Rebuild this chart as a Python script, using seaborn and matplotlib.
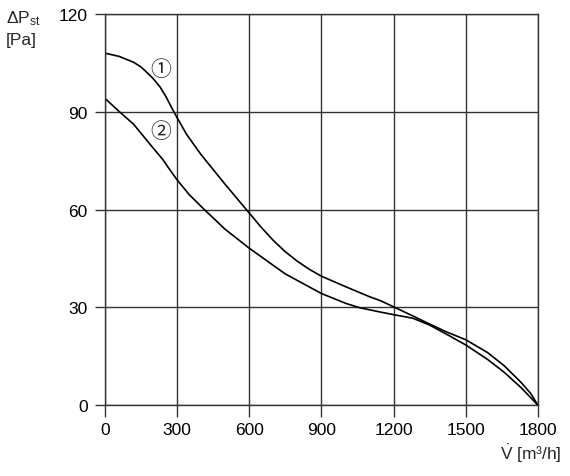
import numpy as np
import pandas as pd
import matplotlib.pyplot as plt
import seaborn as sns

sns.set_theme(style="white")
plt.rcParams["font.family"] = ["Liberation Sans", "DejaVu Sans", "Noto Sans CJK JP"]
plt.rcParams["mathtext.default"] = "regular"

# Kennlinie 1
vazao_curva_1 = [0, 60, 120, 150, 175, 200, 230, 255, 280, 300, 340, 400, 500, 600, 650, 700, 750, 800, 850, 900,
                 1000, 1100, 1145, 1200, 1280, 1350, 1420, 1500, 1590, 1660, 1730, 1770, 1800]
pressao_curva_1 = [108.0, 107.0, 105.2, 103.8, 102.1, 100.3, 97.6, 94.6, 91.0, 88.3, 83.1, 76.9, 67.8, 59.0, 54.6, 50.6, 47.1, 44.2, 41.7, 39.6,
                   36.4, 33.3, 32.1, 30.2, 27.4, 24.9, 22.5, 20.1, 16.2, 12.1, 7.0, 3.6, 0.0]

# Kennlinie 2
vazao_curva_2 = [0, 60, 120, 160, 200, 240, 270, 300, 350, 410, 500, 600, 750, 900, 1000, 1060,
                 1145, 1200, 1280, 1350, 1420, 1500, 1590, 1660, 1730, 1800]
pressao_curva_2 = [94.2, 90.1, 86.2, 82.6, 79.0, 75.5, 72.3, 69.2, 64.7, 60.3, 54.0, 48.2, 40.3, 34.3, 31.3, 29.9,
                   28.6, 27.8, 26.7, 24.6, 21.8, 18.5, 14.1, 10.1, 5.4, 0.0]

ticks_x = [0, 300, 600, 900, 1200, 1500, 1800]
ticks_y = [0, 30, 60, 90, 120]

rotulos_curvas = ["\u2460", "\u2461"]
posicao_rotulos = [(234, 103.1), (234, 84.2)]

df_curvas = pd.concat([
    pd.DataFrame({"vazao": vazao_curva_1, "pressao": pressao_curva_1, "curva": "1"}),
    pd.DataFrame({"vazao": vazao_curva_2, "pressao": pressao_curva_2, "curva": "2"}),
])

fig = plt.figure(figsize=(5.7, 4.77), dpi=100)
ax = fig.add_axes([104.7 / 570, 1 - 406.3 / 477, (538 - 104.7) / 570, (406.3 - 15) / 477])

sns.lineplot(data=df_curvas, x="vazao", y="pressao", units="curva", estimator=None,
             color="black", linewidth=1.2, sort=False, ax=ax)

ax.set_xlim(0, 1800)
ax.set_ylim(0, 120)
ax.set_xticks(ticks_x)
ax.set_yticks(ticks_y)
ax.set_xlabel("")
ax.set_ylabel("")
ax.grid(True, color="#333333", linewidth=1.0)
for lado in ["left", "right", "top", "bottom"]:
    ax.spines[lado].set_visible(True)
    ax.spines[lado].set_color("#333333")
    ax.spines[lado].set_linewidth(1.0)

ax.tick_params(axis="x", which="major", bottom=True, length=8.6, width=1.0, color="#333333",
               pad=3.5, labelsize=12.5, labelcolor="black")
ax.tick_params(axis="y", which="major", left=True, length=7.2, width=1.0, color="#333333",
               pad=5, labelsize=12.5, labelcolor="black")

for rotulo, (px, py) in zip(rotulos_curvas, posicao_rotulos):
    ax.text(px, py, rotulo, ha="center", va="center", fontsize=15,
            family=["Noto Sans CJK JP", "DejaVu Sans"])

fig.text(6 / 570, 1 - 23 / 477, "\u0394P$_{st}$", fontsize=12.5, ha="left", va="baseline")
fig.text(6 / 570, 1 - 45 / 477, "[Pa]", fontsize=12.5, ha="left", va="baseline")
fig.text(562 / 570, 1 - 460 / 477, "$\\dot{V}$ [m\u00b3/h]", fontsize=12.5, ha="right", va="baseline")

fig.savefig("out.png", dpi=100)
